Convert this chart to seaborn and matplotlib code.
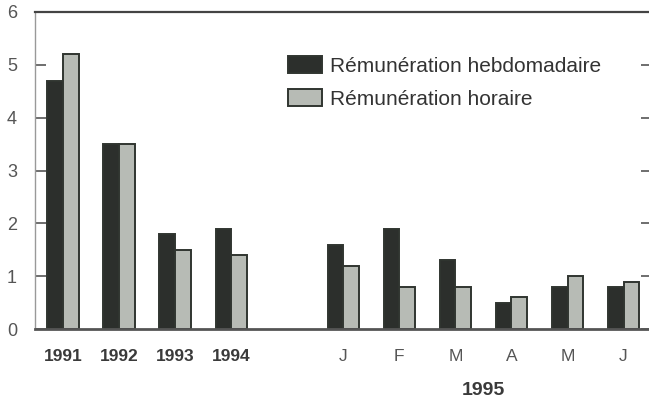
import pandas as pd
import seaborn as sns
import matplotlib.pyplot as plt

# periodes (cles uniques) et libelles affiches sur l'axe
periodes = ["1991", "1992", "1993", "1994", "Jan", "Fev", "Mar", "Avr", "Mai", "Juin"]
libelles = ["1991", "1992", "1993", "1994", "J", "F", "M", "A", "M", "J"]
hebdomadaire = [4.7, 3.5, 1.8, 1.9, 1.6, 1.9, 1.3, 0.5, 0.8, 0.8]
horaire = [5.2, 3.5, 1.5, 1.4, 1.2, 0.8, 0.8, 0.6, 1.0, 0.9]
series = ["Rémunération hebdomadaire", "Rémunération horaire"]


def build_frame():
    df = pd.DataFrame({
        "Periode": periodes * 2,
        "Serie": [series[0]] * len(periodes) + [series[1]] * len(periodes),
        "Valeur": hebdomadaire + horaire,
    })
    return df


def plot(df):
    sns.set_theme(style="white")
    plt.rcParams["font.family"] = ["Liberation Sans", "DejaVu Sans"]

    fig = plt.figure(figsize=(6.49, 4.12), dpi=100)
    ax = fig.add_axes([0.054, 0.201, 0.95, 0.77])

    # une case vide entre 1994 et janvier 1995
    ordre = periodes[:4] + ["_vide"] + periodes[4:]
    sns.barplot(
        data=df, x="Periode", y="Valeur", hue="Serie", order=ordre,
        hue_order=series, palette=["#2b302b", "#b7bcb4"], width=0.56,
        edgecolor="#303530", linewidth=1.4, ax=ax,
    )

    ax.set_ylim(0, 6)
    ax.set_xlim(-0.5, len(ordre) - 0.5)
    ax.set_yticks(range(7))
    ax.set_xticks(range(len(ordre)))
    ax.set_xticklabels(libelles[:4] + [""] + libelles[4:])
    for i, lab in enumerate(ax.get_xticklabels()):
        lab.set_fontsize(12.5)
        if i < 4:
            lab.set_fontweight("bold")
            lab.set_color("#3a3a3a")
        else:
            lab.set_color("#555555")
    ax.tick_params(axis="x", length=0, pad=14)
    ax.tick_params(axis="y", direction="in", length=8, width=1.2, color="#555555",
                   left=True, right=True, labelsize=13, labelcolor="#555555", pad=13)
    ax.set_xlabel("")
    ax.set_ylabel("")

    ax.spines["top"].set_color("#444444")
    ax.spines["top"].set_linewidth(1.6)
    ax.spines["bottom"].set_color("#555555")
    ax.spines["bottom"].set_linewidth(2.0)
    ax.spines["left"].set_color("#999999")
    ax.spines["left"].set_linewidth(1.0)
    ax.spines["right"].set_visible(False)

    ax.text(7.5, -1.16, "1995", ha="center", va="center", fontsize=14,
            fontweight="bold", color="#3a3a3a")

    leg = ax.legend(loc="upper left", bbox_to_anchor=(0.41, 0.86), frameon=False,
                    fontsize=15, handlelength=1.63, handleheight=0.87,
                    handletextpad=0.4, labelspacing=0.62, borderpad=0,
                    borderaxespad=0)
    for t in leg.get_texts():
        t.set_color("#333333")

    fig.savefig("out.png", dpi=100)


def main():
    df = build_frame()
    plot(df)


if __name__ == "__main__":
    main()
